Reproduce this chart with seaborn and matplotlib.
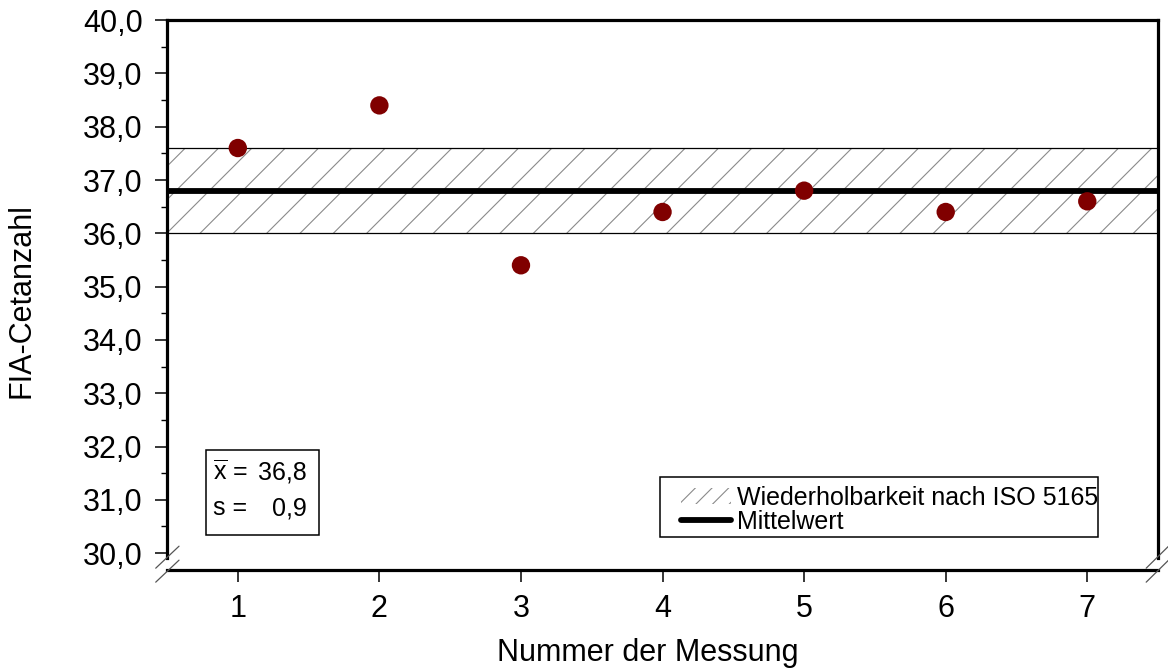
###########################################################################################
# imports
import matplotlib
matplotlib.use('Agg')
import matplotlib.pyplot as plt
import pandas as pd
import seaborn as sns
from matplotlib.patches import Patch, Rectangle
from matplotlib.lines import Line2D

###########################################################################################
# chart data

messung = [1, 2, 3, 4, 5, 6, 7]
cetanzahl = [37.6, 38.4, 35.4, 36.4, 36.8, 36.4, 36.6]
mittelwert = 36.8
std_abw = 0.9
wdh_unten = 36.0
wdh_oben = 37.6
y_ticks = [30, 31, 32, 33, 34, 35, 36, 37, 38, 39, 40]
y_minor = [30.5, 31.5, 32.5, 33.5, 34.5, 35.5, 36.5, 37.5, 38.5, 39.5]
legend_labels = ['Wiederholbarkeit nach ISO 5165', 'Mittelwert']


def de_num(v):
    # german decimal comma
    return f'{v:.1f}'.replace('.', ',')


###########################################################################################
# plotting

def plot_chart():
    sns.set_style('ticks')
    plt.rcParams['font.family'] = ['Liberation Sans', 'DejaVu Sans']
    plt.rcParams['mathtext.fontset'] = 'custom'
    plt.rcParams['mathtext.rm'] = 'Liberation Sans'
    plt.rcParams['mathtext.it'] = 'Liberation Sans'
    plt.rcParams['hatch.linewidth'] = 0.8
    for key in ['text.color', 'axes.labelcolor', 'xtick.color', 'ytick.color']:
        plt.rcParams[key] = 'black'

    df = pd.DataFrame({'messung': messung, 'cetanzahl': cetanzahl})

    fig = plt.figure(figsize=(11.68, 6.7), dpi=100)
    ax = fig.add_axes([0.143, 0.149, 0.8485, 0.821])

    # repeatability band
    ax.fill_between([0.5, 7.5], wdh_unten, wdh_oben, facecolor='white',
                    edgecolor='#8a8a8a', hatch='/', linewidth=0, zorder=1)
    ax.axhline(wdh_unten, color='black', lw=0.9, zorder=2)
    ax.axhline(wdh_oben, color='black', lw=0.9, zorder=2)

    # mean line
    ax.axhline(mittelwert, color='black', lw=4.2, zorder=3)

    # measurements
    sns.scatterplot(data=df, x='messung', y='cetanzahl', ax=ax, s=175,
                    color='#800000', edgecolor='none', zorder=4, legend=False)

    ax.set_xlim(0.5, 7.5)
    ax.set_ylim(29.68, 40)
    ax.set_xticks(messung)
    ax.set_xticklabels([str(m) for m in messung])
    ax.set_yticks(y_ticks)
    ax.set_yticklabels([de_num(v) for v in y_ticks])
    ax.set_yticks(y_minor, minor=True)

    ax.tick_params(axis='both', which='major', labelsize=22, length=8.5,
                   width=1.1, pad=9, color='black', labelcolor='black')
    ax.tick_params(axis='y', which='minor', length=4.3, width=1.0, color='black')
    ax.tick_params(axis='x', which='minor', length=0)

    for side in ['left', 'right', 'top', 'bottom']:
        ax.spines[side].set_visible(True)
        ax.spines[side].set_linewidth(2.3)
        ax.spines[side].set_color('black')
    ax.spines['left'].set_bounds(29.91, 40)
    ax.spines['right'].set_bounds(29.91, 40)

    # axis break marks
    for x0, x1 in [(-0.0114, 0.0121), (0.988, 1.0106)]:
        for y0, y1 in [(0.0036, 0.0436), (-0.0218, 0.0182)]:
            ax.plot([x0, x1], [y0, y1], transform=ax.transAxes, color='#555555',
                    lw=0.9, clip_on=False, zorder=5)

    ax.set_xlabel('Nummer der Messung', fontsize=22)
    ax.set_ylabel('FIA-Cetanzahl', fontsize=22)
    ax.xaxis.set_label_coords(0.485, -0.1236)
    ax.yaxis.set_label_coords(-0.132, 0.49)

    # stats box
    ax.add_patch(Rectangle((0.039, 0.064), 0.114, 0.154, transform=ax.transAxes,
                           facecolor='white', edgecolor='black', lw=1.1, zorder=6))
    ax.text(0.0464, 0.178, r'$\overline{\mathrm{x}}$ =', transform=ax.transAxes,
            fontsize=18, va='center', ha='left', zorder=7)
    ax.text(0.1413, 0.178, de_num(mittelwert), transform=ax.transAxes,
            fontsize=18, va='center', ha='right', zorder=7)
    ax.text(0.0464, 0.113, 's =', transform=ax.transAxes,
            fontsize=18, va='center', ha='left', zorder=7)
    ax.text(0.1413, 0.113, de_num(std_abw), transform=ax.transAxes,
            fontsize=18, va='center', ha='right', zorder=7)

    # legend
    ax.add_patch(Rectangle((0.4975, 0.06), 0.442, 0.109, transform=ax.transAxes,
                           facecolor='white', edgecolor='black', lw=1.1, zorder=6))
    handles = [Patch(facecolor='white', edgecolor='#8a8a8a', hatch='//', lw=0),
               Line2D([0], [0], color='black', lw=4.2)]
    leg = ax.legend(handles, legend_labels, loc='lower left',
                    bbox_to_anchor=(0.5187, 0.066), frameon=False, fontsize=18,
                    borderpad=0, borderaxespad=0, handlelength=2.0,
                    handleheight=0.6, handletextpad=0.25, labelspacing=0.0)
    leg.set_zorder(8)

    fig.savefig('out.png', dpi=100, facecolor='white')
    plt.close(fig)


if __name__ == '__main__':
    plot_chart()
